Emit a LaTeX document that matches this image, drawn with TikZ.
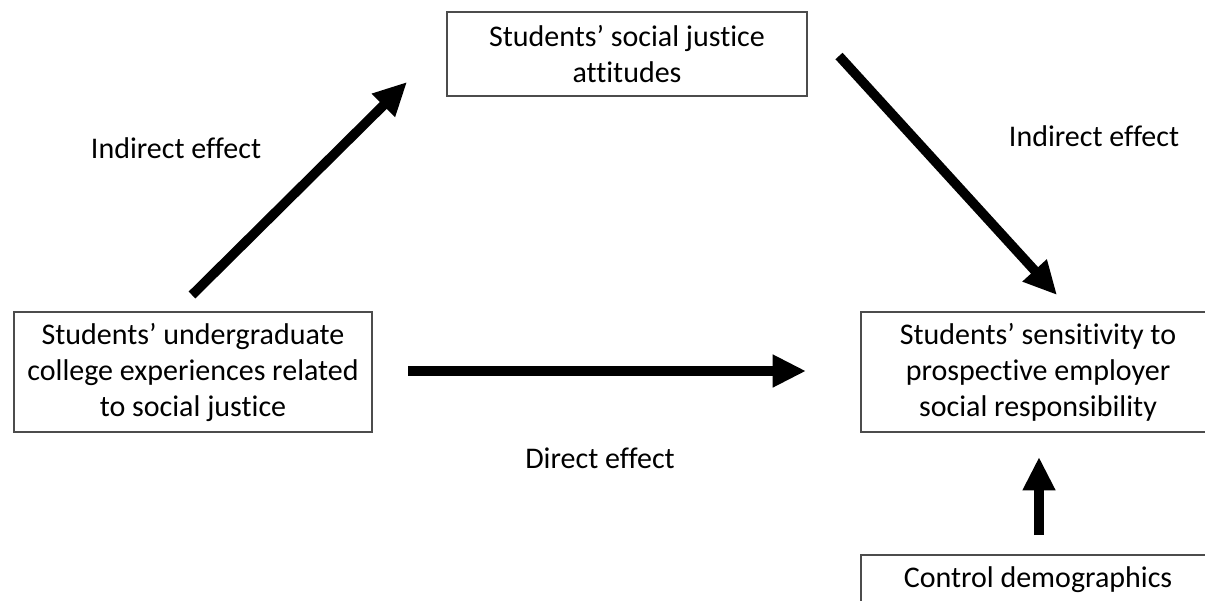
\documentclass[tikz,border=0pt]{standalone}
\usepackage{fontspec}
\setmainfont[Ligatures={NoCommon}]{Carlito}
\usetikzlibrary{arrows.meta}
\begin{document}
\begin{tikzpicture}[x=0.75pt,y=-0.75pt,
  box/.style={draw=black!70, line width=0.9pt, align=center, inner sep=0pt,
    font=\fontsize{22.5}{27}\selectfont},
  lbl/.style={font=\fontsize{22.5}{27}\selectfont, inner sep=0pt},
  bigarrow/.style={line width=7.2pt, -{Triangle[length=25pt,width=23pt]}}]
\useasboundingbox (0,0) rectangle (1205,600);

% boxes
\node[box, minimum width=360*0.75pt, minimum height=84*0.75pt] (att) at (627,54)
  {Students’ social justice\\attitudes};
\node[box, minimum width=358*0.75pt, minimum height=120*0.75pt] (exp) at (193,372)
  {Students’ undergraduate\\college experiences related\\to social justice};
\node[box, minimum width=354*0.75pt, minimum height=120*0.75pt] (sens) at (1038,372)
  {Students’ sensitivity to\\prospective employer\\social responsibility};
\node[box, minimum width=354*0.75pt, minimum height=50*0.75pt] (ctrl) at (1038,580)
  {Control demographics};

% effect labels
\node[lbl] (ind1) at (176,148) {Indirect effect};
\node[lbl] (ind2) at (1094,136) {Indirect effect};
\node[lbl] (dir) at (600,458) {Direct effect};

% arrow end points
\coordinate (a1s) at (192,295);
\coordinate (a1e) at (407,82);
\coordinate (a2s) at (839,56);
\coordinate (a2e) at (1057,295);
\coordinate (a3s) at (408,371);
\coordinate (a3e) at (806,371);
\coordinate (a4s) at (1039,535);
\coordinate (a4e) at (1039,457);

% effects
\draw[bigarrow] (a1s) -- (a1e);
\draw[bigarrow] (a2s) -- (a2e);
\draw[bigarrow] (a3s) -- (a3e);
\draw[bigarrow] (a4s) -- (a4e);
\end{tikzpicture}
\end{document}
